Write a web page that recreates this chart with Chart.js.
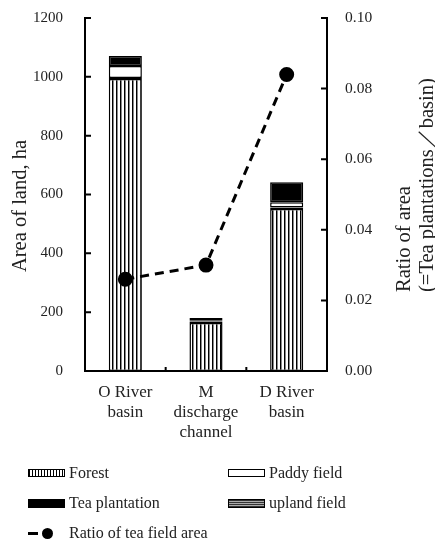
<!DOCTYPE html>
<html>
<head>
<meta charset="utf-8">
<script src="https://cdn.jsdelivr.net/npm/chart.js@4.4.1/dist/chart.umd.min.js"></script>
<style>
  html, body { margin: 0; padding: 0; background: #fff; }
  #wrap { position: relative; width: 435px; height: 542px; }
  #chart { position: absolute; left: 0; top: 0; }
  .lg { position: absolute; font: 16px "Liberation Serif", "Times New Roman", serif; color: #222; line-height: 16px; }
  .sw { position: absolute; box-sizing: border-box; border: 1px solid #000; }
</style>
</head>
<body>
<div id="wrap">
  <canvas id="chart" width="435" height="542"></canvas>

  <div class="sw" style="left:28px;top:469px;width:37px;height:8px;background:repeating-linear-gradient(90deg,#000 0 1px,#fff 1px 3px);"></div>
  <div class="lg" style="left:69px;top:465px;">Forest</div>

  <div class="sw" style="left:228px;top:469px;width:37px;height:8px;background:#fff;"></div>
  <div class="lg" style="left:269px;top:465px;">Paddy field</div>

  <div class="sw" style="left:28px;top:499px;width:37px;height:9px;background:#000;"></div>
  <div class="lg" style="left:69px;top:495px;">Tea plantation</div>

  <div class="sw" style="left:228px;top:499px;width:37px;height:9px;background:repeating-linear-gradient(0deg,#333 0 1px,#aaa 1px 2px);"></div>
  <div class="lg" style="left:269px;top:495px;">upland field</div>

  <div style="position:absolute;left:28px;top:532px;width:10px;height:3px;background:#000;"></div>
  <div style="position:absolute;left:42px;top:528px;width:11px;height:11px;border-radius:50%;background:#000;"></div>
  <div class="lg" style="left:69px;top:525px;">Ratio of tea field area</div>
</div>
<script>
const categories = [['O River', 'basin'], ['M', 'discharge', 'channel'], ['D River', 'basin']];
const forest = [993, 163, 551];
const upland = [3, 5, 5];
const paddy = [41, 3, 18];
const tea = [34, 9, 68];
const teaRatio = [0.026, 0.030, 0.084];
const areaTicks = [0, 200, 400, 600, 800, 1000, 1200];
const ratioTicks = [0, 0.02, 0.04, 0.06, 0.08, 0.10];

const serif = '"Liberation Serif", "Times New Roman", serif';

// stripe patterns for the bars
function makePattern(w, h, draw) {
  const c = document.createElement('canvas');
  c.width = w; c.height = h;
  const g = c.getContext('2d');
  draw(g);
  return g.createPattern(c, 'repeat');
}
const forestFill = makePattern(4, 4, g => {
  g.fillStyle = '#fff'; g.fillRect(0, 0, 4, 4);
  g.fillStyle = '#000'; g.fillRect(0, 0, 1, 4);
  g.fillStyle = '#888'; g.fillRect(1, 0, 1, 4);
});
const uplandFill = makePattern(2, 2, g => {
  g.fillStyle = '#aaa'; g.fillRect(0, 0, 2, 2);
  g.fillStyle = '#333'; g.fillRect(0, 0, 2, 1);
});

const barStyle = { borderColor: '#000', borderWidth: 1.5, borderSkipped: false, barPercentage: 0.41, categoryPercentage: 1, yAxisID: 'y', order: 1 };

// inward tick marks and rotated axis titles
const axisExtras = {
  id: 'axisExtras',
  afterDraw(chart) {
    const ctx = chart.ctx;
    const a = chart.chartArea;
    const y = chart.scales.y, y1 = chart.scales.y1;
    ctx.save();
    ctx.strokeStyle = '#000';
    ctx.lineWidth = 2;
    ctx.beginPath();
    areaTicks.forEach(v => { const p = y.getPixelForValue(v); ctx.moveTo(a.left, p); ctx.lineTo(a.left + 6, p); });
    ratioTicks.forEach(v => { const p = y1.getPixelForValue(v); ctx.moveTo(a.right, p); ctx.lineTo(a.right - 6, p); });
    const step = (a.right - a.left) / categories.length;
    for (let i = 1; i < categories.length; i++) {
      const x = a.left + i * step;
      ctx.moveTo(x, a.bottom); ctx.lineTo(x, a.bottom - 4);
    }
    ctx.stroke();

    ctx.fillStyle = '#222';
    ctx.font = '20.5px ' + serif;
    ctx.textBaseline = 'middle';
    ctx.save();
    ctx.translate(21, 206);
    ctx.rotate(-Math.PI / 2);
    ctx.textAlign = 'center';
    ctx.fillText('Area of land, ha', 0, 0);
    ctx.restore();

    ctx.save();
    ctx.translate(405, 292);
    ctx.rotate(-Math.PI / 2);
    ctx.textAlign = 'left';
    ctx.fillText('Ratio of area', 0, 0);
    ctx.fillText('(=Tea plantations／basin)', 0, 23);
    ctx.restore();
    ctx.restore();
  }
};

// fixed axis sizes so the plot area sits where the reference has it
const fixWidth = w => s => { s.width = w; s.paddingTop = 0; s.paddingBottom = 0; };

new Chart(document.getElementById('chart'), {
  type: 'bar',
  data: {
    labels: categories,
    datasets: [
      { type: 'line', label: 'Ratio of tea field area', data: teaRatio, yAxisID: 'y1', order: 0,
        borderColor: '#000', borderWidth: 3, borderDash: [9, 6], pointRadius: 6,
        pointBackgroundColor: '#000', pointBorderColor: '#000', fill: false, tension: 0 },
      { label: 'Forest', data: forest, backgroundColor: forestFill, ...barStyle },
      { label: 'upland field', data: upland, backgroundColor: uplandFill, ...barStyle },
      { label: 'Paddy field', data: paddy, backgroundColor: '#fff', ...barStyle },
      { label: 'Tea plantation', data: tea, backgroundColor: '#000', ...barStyle }
    ]
  },
  options: {
    responsive: false,
    animation: false,
    layout: { padding: { top: 18, left: 0, right: 0, bottom: 0 } },
    plugins: { legend: { display: false }, tooltip: { enabled: false } },
    scales: {
      x: {
        stacked: true,
        grid: { display: false, drawTicks: false },
        border: { display: true, color: '#000', width: 2 },
        ticks: { color: '#222', padding: 12, maxRotation: 0, autoSkip: false,
                 font: { family: serif, size: 17, lineHeight: '20px' } },
        afterFit: s => { s.height = 171; }
      },
      y: {
        stacked: true, position: 'left', min: 0, max: 1200,
        grid: { display: false, drawTicks: false },
        border: { display: true, color: '#000', width: 2 },
        ticks: { stepSize: 200, color: '#222', padding: 22, font: { family: serif, size: 15 },
                 callback: v => String(v) },
        afterFit: fixWidth(85)
      },
      y1: {
        position: 'right', min: 0, max: 0.1,
        grid: { display: false, drawTicks: false },
        border: { display: true, color: '#000', width: 2 },
        ticks: { stepSize: 0.02, color: '#222', padding: 18, font: { family: serif, size: 15.5 },
                 callback: v => v.toFixed(2) },
        afterFit: fixWidth(108)
      }
    }
  },
  plugins: [axisExtras]
});
</script>
</body>
</html>
